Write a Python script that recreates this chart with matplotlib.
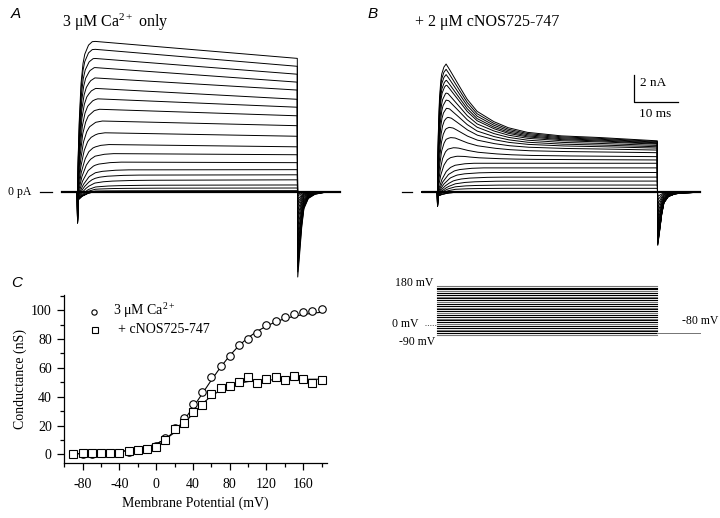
import matplotlib
matplotlib.use("Agg")
import matplotlib.pyplot as plt
import numpy as np

plt.rcParams["font.family"] = ["Liberation Serif", "DejaVu Serif"]
plt.rcParams["mathtext.fontset"] = "custom"
plt.rcParams["mathtext.rm"] = "Liberation Serif"
plt.rcParams["mathtext.it"] = "Liberation Serif:italic"
plt.rcParams["axes.unicode_minus"] = False

W, H = 720, 518

# --- A: 3 uM Ca2+ only, one trace per voltage step (nA), top to bottom ---
a_early = [11.5, 10.9, 10.2, 9.5, 8.7, 7.9, 7.1, 6.3, 5.4, 4.5, 3.6, 2.9,
           2.25, 1.65, 1.25, 0.85, 0.48, 0.26, 0.07, 0, 0, 0, 0]
a_end = [10.1, 9.5, 8.9, 8.3, 7.7, 7.0, 6.4, 5.75, 5.0, 4.2, 3.4, 2.8,
         2.2, 1.67, 1.28, 0.9, 0.51, 0.28, 0.08, 0, 0, 0, 0]
a_rise_ms = [1.7, 1.7, 1.8, 1.9, 2.0, 2.1, 2.3, 2.5, 2.8, 3.1, 3.5, 4.0,
             4.8, 5.5, 6.5, 7.5, 8.5, 9, 9, 9, 9, 9, 9]

# --- B: + 2 uM cNOS725-747, peak and late current (nA) ---
b_peak = [9.8, 9.4, 9.0, 8.6, 8.25, 7.7, 7.2, 6.6, 5.95, 5.2, 4.4, 3.6,
          2.9, 2.2, 1.85, 1.5, 1.15, 0.85, 0.55, 0.3, 0, 0, 0]
b_late = [3.9, 3.85, 3.8, 3.75, 3.7, 3.65, 3.55, 3.45, 3.35, 3.2, 3.0, 2.7,
          2.45, 2.2, 1.85, 1.5, 1.15, 0.85, 0.55, 0.3, 0, 0, 0]
b_rise_ms = [1.0, 1.0, 1.0, 1.05, 1.1, 1.2, 1.3, 1.4, 1.6, 1.8, 2.0, 2.4,
             3, 4, 5, 6, 7, 8, 8, 8, 8, 8, 8]

# shapes
rise_u = [0, 0.1, 0.25, 0.5, 0.75, 1.0, 1.5, 2.0]
rise_v = [0, 0.25, 0.5, 0.75, 0.87, 0.93, 0.98, 1.0]
decay_t = [2, 4, 6.7, 9, 12.7, 16, 20.3, 27.9, 35.4, 50]
decay_f = [1, 0.8, 0.54, 0.38, 0.25, 0.17, 0.11, 0.064, 0.047, 0]
tail_dt = [0.1, 0.5, 1.0, 1.5, 2.5, 4, 6, 9.6]
tail_f = [-1, -0.75, -0.42, -0.2, -0.08, -0.03, -0.01, 0]
spike_t = [0, 0.03, 0.2, 1.0, 2.5, 4.0]
spike_i = [0, -2.6, -0.6, -0.35, -0.1, 0]
tail_ratio_a = 0.64
tail_ratio_b = 1.03
spike_scale_b = 0.45

# --- voltage protocol (mV) ---
steps_mv = [-90, -80, -70, -60, -50, -40, -30, -20, -10, 0, 10, 20, 30, 40,
            50, 60, 70, 80, 90, 100, 110, 120, 130, 140, 150, 160, 170, 180]
hold_mv = -80

# --- C: conductance-voltage ---
v_mv = steps_mv
g_ca = [0.5, 0.5, 0.5, 0.6, 0.7, 1.0, 1.8, 3.0, 4.0, 5.8, 11, 18, 25, 35,
        43.5, 54, 61, 68, 76, 80, 84, 89.5, 92.5, 95.5, 97.5, 99, 99.5, 101]
g_nos = [0.5, 0.6, 0.6, 0.7, 0.8, 1.0, 2.0, 3.0, 3.5, 5.0, 10, 17.5, 22,
         29.5, 34, 42, 46.3, 47.2, 50, 54, 49.3, 52.3, 53.5, 51.3, 54.2,
         52.3, 49.8, 51.3]
fit_ca = [0.4, 0.5, 0.7, 0.9, 1.3, 1.9, 2.7, 3.8, 5.2, 7.2, 10.6, 16, 23.5,
          32.5, 42, 51.5, 60.5, 68.5, 75.5, 81, 85.5, 89, 92, 94.2, 95.8,
          97, 98, 98.6]
fit_nos = [0.4, 0.5, 0.7, 0.9, 1.3, 1.9, 2.7, 3.8, 5.2, 7.2, 10.4, 15.2,
           21.2, 28.2, 35, 40.5, 44.5, 47.5, 49.3, 50.5, 51.1, 51.5, 51.8,
           51.9, 52, 52.1, 52.1, 52.2]


def px_axes(fig, left, top, right, bottom):
    return fig.add_axes([left / W, 1 - bottom / H, (right - left) / W,
                         (bottom - top) / H])


def sweep(pulse_t, pulse_i, end_i, ratio):
    tt = [-3.5, 0] + list(pulse_t) + [50 + d for d in tail_dt] + [59.6]
    ii = [0, 0] + list(pulse_i) + [ratio * end_i * f for f in tail_f] + [0]
    return tt, ii


t = np.linspace(0, 50, 1001)
fig = plt.figure(figsize=(7.2, 5.18), dpi=100)

# ---------------- panel A ----------------
axa = px_axes(fig, 37.7, 26.7, 350.1, 297.3)
for early, end, rise in zip(a_early, a_end, a_rise_ms):
    level = early + (end - early) * t / 50
    cur = np.interp(t / rise, rise_u, rise_v) * level + np.interp(t, spike_t, spike_i)
    tt, ii = sweep(t, cur, end, tail_ratio_a)
    axa.plot(tt, ii, color="k", lw=0.7)
axa.plot([-3.5, 59.6], [0, 0], color="k", lw=1.6)
axa.plot([-8.5, -5.75], [0, 0], color="k", lw=0.9, clip_on=False)
axa.text(-10.4, 0, "0 pA", ha="right", va="center", fontsize=8.5)
axa.set_xlim(-9, 62)
axa.set_ylim(-8, 12.5)
axa.axis("off")

# ---------------- panel B ----------------
axb = px_axes(fig, 397.7, 27.3, 710.1, 297.9)
for peak, late, rise in zip(b_peak, b_late, b_rise_ms):
    level = late + (peak - late) * np.interp(t, decay_t, decay_f)
    cur = (np.interp(t / rise, rise_u, rise_v) * level
           + spike_scale_b * np.interp(t, spike_t, spike_i))
    tt, ii = sweep(t, cur, late, tail_ratio_b)
    axb.plot(tt, ii, color="k", lw=0.7)
axb.plot([-3.3, 59.7], [0, 0], color="k", lw=1.6)
axb.plot([-8.1, -5.8], [0, 0], color="k", lw=0.9, clip_on=False)
# scale bar
axb.plot([44.77, 44.77, 54.77], [8.85, 6.85, 6.85], color="k", lw=0.9)
axb.text(46.1, 8.3, "2 nA", ha="left", va="center", fontsize=9.5)
axb.text(49.6, 5.95, "10 ms", ha="center", va="center", fontsize=9.5)
axb.set_xlim(-9, 62)
axb.set_ylim(-8, 12.5)
axb.axis("off")

# ---------------- voltage protocol ----------------
axv = px_axes(fig, 397.7, 280.2, 710.1, 342.3)
for k, v in enumerate(steps_mv):
    axv.plot([0, 50], [v, v], color="k" if k % 3 else "0.45", lw=0.8)
axv.plot([50, 59.7], [hold_mv, hold_mv], color="0.45", lw=0.7)
axv.set_xlim(-9, 62)
axv.set_ylim(-130, 210)
axv.axis("off")
fig.text(433 / W, 1 - 283 / H, "180 mV", ha="right", va="center", fontsize=8.5)
fig.text(392 / W, 1 - 324 / H, "0 mV", ha="left", va="center", fontsize=8.5)
fig.text(435 / W, 1 - 342 / H, "-90 mV", ha="right", va="center", fontsize=8.5)
fig.text(682 / W, 1 - 321 / H, "-80 mV", ha="left", va="center", fontsize=8.5)
fig.add_artist(plt.Line2D([425 / W, 437 / W], [1 - 325 / H, 1 - 325 / H],
                          color="0.3", lw=0.7, ls=(0, (1, 1.5))))

# ---------------- panel C ----------------
axc = px_axes(fig, 64.3, 295.0, 326.7, 462.7)
axc.plot(v_mv, fit_ca, color="k", lw=0.8)
axc.plot(v_mv, fit_nos, color="k", lw=0.8)
axc.plot(v_mv, g_ca, ls="none", marker="o", ms=5.4, mfc="white", mec="k", mew=0.8)
axc.plot(v_mv, g_nos, ls="none", marker="s", ms=5.8, mfc="white", mec="k", mew=0.8)
axc.set_xlim(-100, 185.5)
axc.set_ylim(-5.8, 110.6)
axc.set_xticks([-80, -40, 0, 40, 80, 120, 160])
axc.set_xticks([-100, -60, -20, 20, 60, 100, 140, 180], minor=True)
axc.set_yticks([0, 20, 40, 60, 80, 100])
axc.set_yticks([10, 30, 50, 70, 90, 110], minor=True)
axc.tick_params(which="major", length=5, width=0.9, labelsize=10, pad=4)
axc.tick_params(axis="x", which="major", pad=6)
axc.tick_params(which="minor", length=3, width=0.9)
for side in ("top", "right"):
    axc.spines[side].set_visible(False)
for side in ("left", "bottom"):
    axc.spines[side].set_linewidth(0.9)
axc.set_xlabel("Membrane Potential (mV)", fontsize=10, labelpad=4)
axc.set_ylabel("Conductance (nS)", fontsize=10, labelpad=3)

# legend
axc.plot([0.115], [0.900], transform=axc.transAxes, marker="o", ms=3.8,
         mfc="white", mec="k", mew=0.8, clip_on=False)
axc.plot([0.117], [0.794], transform=axc.transAxes, marker="s", ms=4.4,
         mfc="white", mec="k", mew=0.8, clip_on=False)
axc.text(0.186, 0.905, r"3 μM Ca$^{\mathrm{2+}}$", transform=axc.transAxes,
         ha="left", va="center", fontsize=10)
axc.text(0.205, 0.797, "+ cNOS725-747", transform=axc.transAxes,
         ha="left", va="center", fontsize=10)

# titles and panel letters
fig.text(62 / W, 1 - 22.7 / H, r"3 μM Ca$^{\mathrm{2+}}$ only", ha="left",
         va="center", fontsize=11.5)
fig.text(415 / W, 1 - 22.5 / H, "+ 2 μM cNOS725-747", ha="left",
         va="center", fontsize=11.5)
for x, y, s in [(11, 14, "A"), (368, 14, "B"), (11, 283, "C")]:
    fig.text(x / W, 1 - y / H, s, ha="left", va="center", fontsize=11,
             family="Liberation Sans", style="italic")

fig.savefig("out.png", dpi=100)
